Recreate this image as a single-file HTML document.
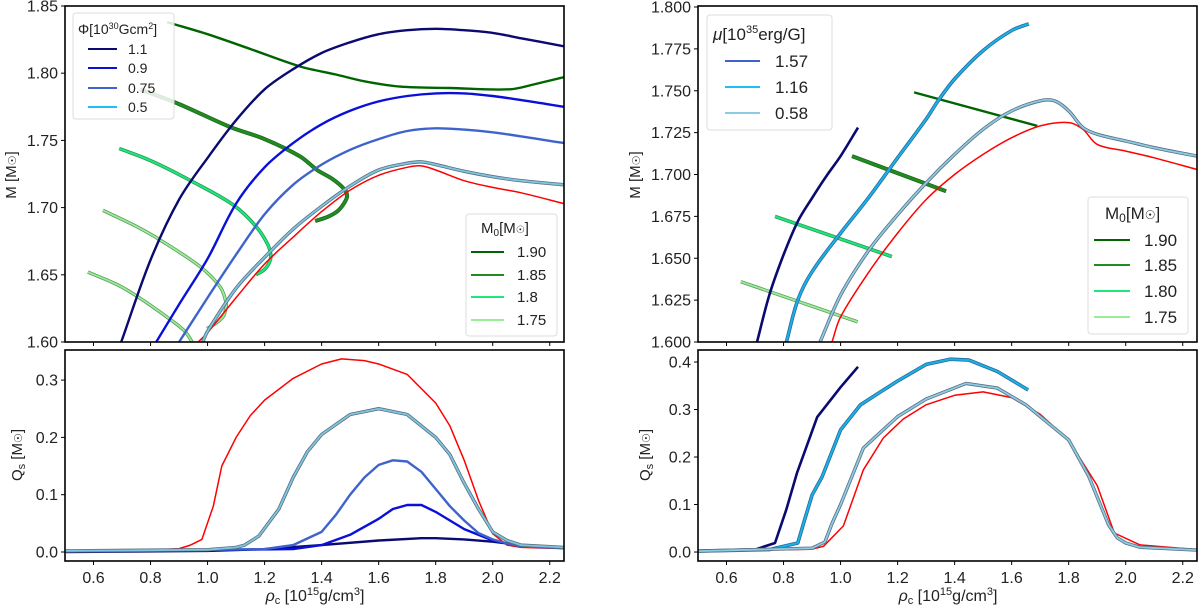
<!DOCTYPE html>
<html><head><meta charset="utf-8"><style>
html,body{margin:0;padding:0;background:#fff;}
svg{display:block;font-family:"Liberation Sans","DejaVu Sans",sans-serif;}
</style></head><body>
<svg id="fig" width="1200" height="609" viewBox="0 0 1200 609"></svg>
<script>
// ---------- LEFT TOP: M vs rho (Phi series) ----------
const L_navy_r=[0.697,0.8,0.9,1.0,1.1,1.2,1.3,1.4,1.5,1.6,1.7,1.8,1.9,2.0,2.1,2.25];
const L_navy_m=[1.60,1.661,1.706,1.737,1.765,1.788,1.803,1.815,1.823,1.829,1.832,1.833,1.832,1.830,1.826,1.820];
const L_blue_r=[0.82,0.9,1.0,1.1,1.2,1.3,1.4,1.5,1.6,1.7,1.8,1.9,2.0,2.1,2.25];
const L_blue_m=[1.60,1.628,1.662,1.703,1.73,1.748,1.762,1.772,1.779,1.783,1.785,1.785,1.783,1.78,1.775];
const L_royal_r=[0.9,1.0,1.1,1.2,1.3,1.4,1.5,1.6,1.7,1.8,1.9,2.0,2.1,2.25];
const L_royal_m=[1.60,1.633,1.665,1.695,1.717,1.732,1.743,1.751,1.757,1.759,1.758,1.756,1.753,1.748];
const L_light_r=[0.983,1.0,1.1,1.2,1.3,1.4,1.5,1.6,1.7,1.75,1.8,1.9,2.0,2.1,2.25];
const L_light_m=[1.60,1.608,1.64,1.663,1.684,1.701,1.716,1.728,1.733,1.734,1.732,1.727,1.723,1.720,1.717];
const L_red_r=[0.967,1.0,1.1,1.2,1.3,1.4,1.5,1.6,1.7,1.75,1.8,1.9,2.0,2.1,2.25];
const L_red_m=[1.60,1.607,1.633,1.658,1.678,1.697,1.713,1.724,1.730,1.731,1.728,1.720,1.715,1.711,1.703];
// M0 sequences
const L_g190_r=[0.858,1.0,1.15,1.325,1.45,1.55,1.675,1.85,2.06,2.15,2.25];
const L_g190_m=[1.838,1.829,1.818,1.805,1.799,1.794,1.790,1.789,1.788,1.792,1.797];
const L_g185_r=[0.763,0.9,1.079,1.2,1.325,1.384,1.44,1.482,1.489,1.475,1.454,1.42,1.377];
const L_g185_m=[1.788,1.777,1.760,1.751,1.738,1.728,1.721,1.713,1.708,1.702,1.697,1.693,1.690];
const L_g180_r=[0.69,0.8,0.95,1.09,1.17,1.21,1.222,1.216,1.2,1.17];
const L_g180_m=[1.744,1.735,1.719,1.702,1.686,1.673,1.664,1.659,1.654,1.650];
const L_g175_r=[0.633,0.75,0.833,0.974,1.044,1.065,1.063,1.055,1.03,0.998];
const L_g175_m=[1.698,1.686,1.676,1.656,1.641,1.629,1.624,1.619,1.614,1.610];
const L_g170_r=[0.58,0.68,0.753,0.868,0.92,0.946];
const L_g170_m=[1.652,1.643,1.634,1.617,1.608,1.600];
// ---------- LEFT BOTTOM: Qs ----------
const LQ_red_r=[0.5,0.8,0.9,0.94,0.98,1.02,1.05,1.1,1.15,1.2,1.3,1.4,1.47,1.55,1.6,1.7,1.8,1.85,1.9,1.95,2.0,2.05,2.1,2.25];
const LQ_red_q=[0.002,0.003,0.006,0.012,0.022,0.08,0.15,0.20,0.238,0.265,0.303,0.328,0.337,0.334,0.328,0.31,0.26,0.22,0.16,0.09,0.032,0.012,0.008,0.006];
const LQ_light_r=[0.5,1.0,1.1,1.13,1.18,1.25,1.3,1.35,1.4,1.5,1.6,1.7,1.8,1.85,1.9,1.95,2.0,2.05,2.1,2.25];
const LQ_light_q=[0.002,0.004,0.008,0.012,0.028,0.075,0.13,0.175,0.205,0.24,0.25,0.24,0.2,0.17,0.12,0.075,0.035,0.02,0.012,0.008];
const LQ_royal_r=[0.5,1.2,1.3,1.4,1.45,1.5,1.55,1.6,1.65,1.7,1.75,1.8,1.85,1.9,1.95,2.0,2.05,2.1,2.25];
const LQ_royal_q=[0.001,0.005,0.012,0.035,0.065,0.1,0.13,0.152,0.16,0.158,0.14,0.11,0.08,0.055,0.033,0.022,0.015,0.01,0.007];
const LQ_blue_r=[0.5,1.3,1.4,1.5,1.6,1.65,1.7,1.75,1.8,1.9,2.0,2.1,2.25];
const LQ_blue_q=[0.001,0.005,0.012,0.03,0.058,0.075,0.082,0.082,0.07,0.04,0.02,0.01,0.007];
const LQ_navy_r=[0.5,1.0,1.2,1.4,1.6,1.75,1.8,1.9,2.0,2.1,2.25];
const LQ_navy_q=[0.0,0.002,0.005,0.012,0.02,0.024,0.024,0.022,0.018,0.012,0.008];
// ---------- RIGHT TOP ----------
const R_navy_r=[0.707,0.75,0.8,0.85,0.9,0.95,1.0,1.061];
const R_navy_m=[1.60,1.628,1.652,1.672,1.686,1.699,1.711,1.728];
const R_sky_r=[0.81,0.85,0.9,1.0,1.093,1.2,1.3,1.338,1.4,1.5,1.6,1.66];
const R_sky_m=[1.60,1.625,1.642,1.665,1.685,1.71,1.733,1.743,1.757,1.774,1.786,1.790];
const R_light_r=[0.928,1.0,1.1,1.2,1.3,1.4,1.5,1.6,1.7,1.75,1.8,1.85,1.9,2.0,2.1,2.25];
const R_light_m=[1.60,1.628,1.655,1.676,1.695,1.712,1.727,1.738,1.744,1.744,1.738,1.728,1.724,1.72,1.716,1.711];
const R_red_r=[0.97,1.0,1.1,1.2,1.3,1.4,1.5,1.6,1.7,1.8,1.85,1.9,2.0,2.1,2.25];
const R_red_m=[1.60,1.615,1.642,1.665,1.685,1.70,1.712,1.722,1.729,1.731,1.727,1.718,1.714,1.71,1.703];
const R_g190_r=[1.258,1.69]; const R_g190_m=[1.749,1.729];
const R_g185_r=[1.04,1.37];  const R_g185_m=[1.711,1.690];
const R_g180_r=[0.77,1.18];  const R_g180_m=[1.675,1.651];
const R_g175_r=[0.65,1.06];  const R_g175_m=[1.636,1.612];
// ---------- RIGHT BOTTOM ----------
const RQ_navy_r=[0.5,0.7,0.77,0.81,0.847,0.918,1.0,1.061];
const RQ_navy_q=[0.002,0.005,0.019,0.09,0.166,0.284,0.347,0.39];
const RQ_sky_r=[0.5,0.75,0.85,0.87,0.9,0.935,1.0,1.07,1.14,1.2,1.3,1.384,1.45,1.55,1.6,1.658];
const RQ_sky_q=[0.002,0.005,0.019,0.06,0.12,0.158,0.257,0.31,0.337,0.36,0.395,0.406,0.404,0.38,0.362,0.341];
const RQ_light_r=[0.5,0.9,0.945,0.97,1.0,1.08,1.2,1.3,1.44,1.55,1.65,1.8,1.87,1.94,1.97,2.0,2.05,2.25];
const RQ_light_q=[0.002,0.008,0.021,0.06,0.1,0.219,0.285,0.322,0.355,0.345,0.31,0.236,0.16,0.057,0.03,0.019,0.01,0.004];
const RQ_red_r=[0.5,0.9,0.94,1.01,1.08,1.15,1.22,1.3,1.4,1.5,1.6,1.7,1.8,1.9,1.96,2.05,2.25];
const RQ_red_q=[0.002,0.006,0.012,0.055,0.173,0.24,0.28,0.31,0.33,0.337,0.325,0.29,0.235,0.14,0.04,0.015,0.005];
// ticks
const xTicks=[0.6,0.8,1.0,1.2,1.4,1.6,1.8,2.0,2.2];
const LTop_ticks=[1.60,1.65,1.70,1.75,1.80,1.85];
const LBot_ticks=[0.0,0.1,0.2,0.3];
const RTop_ticks=[1.600,1.625,1.650,1.675,1.700,1.725,1.750,1.775,1.800];
const RBot_ticks=[0.0,0.1,0.2,0.3,0.4];

const NS="http://www.w3.org/2000/svg";
const svg=document.getElementById('fig');
function mk(tag,attrs,parent){const e=document.createElementNS(NS,tag);for(const k in attrs)e.setAttribute(k,attrs[k]);(parent||svg).appendChild(e);return e;}
function axes(x0,x1,y0,y1,xmin,xmax,ymin,ymax){return {x:v=>x0+(v-xmin)/(xmax-xmin)*(x1-x0),y:v=>y1-(v-ymin)/(ymax-ymin)*(y1-y0),x0,x1,y0,y1};}
const LT=axes(65,564,6,342,0.5,2.25,1.60,1.85);
const LB=axes(65,564,350,561,0.5,2.25,-0.0157,0.3525);
const RT=axes(698,1197,6,342,0.5,2.25,1.60,1.8006);
const RB=axes(698,1197,350,561,0.5,2.25,-0.0189,0.4253);

const defs=mk('defs',{});
function mkClip(id,a){const c=document.createElementNS(NS,'clipPath');c.setAttribute('id',id);const r=document.createElementNS(NS,'rect');r.setAttribute('x',a.x0);r.setAttribute('y',a.y0);r.setAttribute('width',a.x1-a.x0);r.setAttribute('height',a.y1-a.y0);c.appendChild(r);defs.appendChild(c);}
mkClip('cLT',LT);mkClip('cLB',LB);mkClip('cRT',RT);mkClip('cRB',RB);

function tangent(P,i){
  const a=P[Math.max(0,i-1)],b=P[Math.min(P.length-1,i+1)];
  const dx=b[0]-a[0],dy=b[1]-a[1],l=Math.hypot(dx,dy)||1;return [dx/l,dy/l];
}
function path(P,smooth){
  let d='M'+P[0][0].toFixed(1)+','+P[0][1].toFixed(1);
  for(let i=0;i<P.length-1;i++){
    const p1=P[i],p2=P[i+1];
    if(!smooth||P.length<3){d+='L'+p2[0].toFixed(1)+','+p2[1].toFixed(1);continue;}
    const L=Math.hypot(p2[0]-p1[0],p2[1]-p1[1])/3;
    const t1=tangent(P,i),t2=tangent(P,i+1);
    d+='C'+(p1[0]+t1[0]*L).toFixed(1)+','+(p1[1]+t1[1]*L).toFixed(1)+' '+(p2[0]-t2[0]*L).toFixed(1)+','+(p2[1]-t2[1]*L).toFixed(1)+' '+p2[0].toFixed(1)+','+p2[1].toFixed(1);
  }
  return d;
}
function line(a,cid,xs,ys,color,w,outline,name,smooth){
  const P=xs.map((v,i)=>[a.x(v),a.y(ys[i])]);
  const d=path(P,smooth);
  const g=mk('g',{'clip-path':'url(#'+cid+')'});
  
  
  if(outline)mk('path',{d:d,fill:'none',stroke:outline,'stroke-width':w+1.6,'stroke-linejoin':'round'},g);
  mk('path',{d:d,fill:'none',stroke:color,'stroke-width':w,'stroke-linejoin':'round'},g);
}
function frame(a,yt,fmt,name,showX){
  const g=mk('g',{});
  
  
  mk('rect',{x:a.x0,y:a.y0,width:a.x1-a.x0,height:a.y1-a.y0,fill:'none',stroke:'#000','stroke-width':1.6},g);
  yt.forEach(v=>{const y=a.y(v);mk('line',{x1:a.x0-4,x2:a.x0,y1:y,y2:y,stroke:'#000','stroke-width':1},g);
    const t=mk('text',{x:a.x0-7,y:y+5.5,'text-anchor':'end','font-size':16,fill:'#222'},g);t.textContent=fmt(v);});
  xTicks.forEach(v=>{const x=a.x(v);mk('line',{x1:x,x2:x,y1:a.y1,y2:a.y1+4,stroke:'#000','stroke-width':1},g);
    if(showX){const t=mk('text',{x:x,y:a.y1+22,'text-anchor':'middle','font-size':16,fill:'#222'},g);t.textContent=v.toFixed(1);}});
}
// ---- left top
line(LT,'cLT',L_g190_r,L_g190_m,'#006400',2.4,null,'m0-190-left',true);
line(LT,'cLT',L_g185_r,L_g185_m,'#228b22',2.4,'#1a6b1a','m0-185-left',true);
line(LT,'cLT',L_g180_r,L_g180_m,'#1de87a',2,'#2a9a5a','m0-180-left',true);
line(LT,'cLT',L_g175_r,L_g175_m,'#98ee98',1.8,'#5e9a5e','m0-175-left',true);
line(LT,'cLT',L_g170_r,L_g170_m,'#98ee98',1.8,'#5e9a5e','m0-170-left',true);
line(LT,'cLT',L_navy_r,L_navy_m,'#0a0a70',2.4,null,'phi-11-curve',true);
line(LT,'cLT',L_blue_r,L_blue_m,'#0a10d8',2.4,null,'phi-09-curve',true);
line(LT,'cLT',L_royal_r,L_royal_m,'#3f63cc',2.4,null,'phi-075-curve',true);
line(LT,'cLT',L_red_r,L_red_m,'#ff0000',1.5,null,'nonmagnetic-curve-left',true);
line(LT,'cLT',L_light_r,L_light_m,'#7ec6e0',1.8,'#5a6f80','phi-05-curve',true);
frame(LT,LTop_ticks,v=>v.toFixed(2),'left-top-axes',false);
// ---- left bottom
line(LB,'cLB',LQ_red_r,LQ_red_q,'#ff0000',1.5,null,'qs-red-left',false);
line(LB,'cLB',LQ_navy_r,LQ_navy_q,'#0a0a70',2.4,null,'qs-phi-11',false);
line(LB,'cLB',LQ_blue_r,LQ_blue_q,'#0a10d8',2.4,null,'qs-phi-09',false);
line(LB,'cLB',LQ_royal_r,LQ_royal_q,'#3f63cc',2.4,null,'qs-phi-075',false);
line(LB,'cLB',LQ_light_r,LQ_light_q,'#7ec6e0',1.8,'#5a6f80','qs-phi-05',false);
frame(LB,LBot_ticks,v=>v.toFixed(1),'left-bottom-axes',true);
// ---- right top
line(RT,'cRT',R_g190_r,R_g190_m,'#006400',2.4,null,'m0-190-right',false);
line(RT,'cRT',R_g185_r,R_g185_m,'#228b22',2.4,'#1a6b1a','m0-185-right',false);
line(RT,'cRT',R_g180_r,R_g180_m,'#1de87a',2,'#2a9a5a','m0-180-right',false);
line(RT,'cRT',R_g175_r,R_g175_m,'#98ee98',1.8,'#5e9a5e','m0-175-right',false);
line(RT,'cRT',R_navy_r,R_navy_m,'#0a0a70',2.6,null,'mu-navy-curve',true);
line(RT,'cRT',R_sky_r,R_sky_m,'#1ab0e8',2,'#2a6a9a','mu-116-curve',true);
line(RT,'cRT',R_red_r,R_red_m,'#ff0000',1.5,null,'nonmagnetic-curve-right',true);
line(RT,'cRT',R_light_r,R_light_m,'#8ccbe4',1.8,'#5a6f80','mu-058-curve',true);
frame(RT,RTop_ticks,v=>v.toFixed(3),'right-top-axes',false);
// ---- right bottom
line(RB,'cRB',RQ_red_r,RQ_red_q,'#ff0000',1.5,null,'qs-red-right',false);
line(RB,'cRB',RQ_navy_r,RQ_navy_q,'#0a0a70',2.6,null,'qs-mu-navy',false);
line(RB,'cRB',RQ_sky_r,RQ_sky_q,'#1ab0e8',2,'#2a6a9a','qs-mu-116',false);
line(RB,'cRB',RQ_light_r,RQ_light_q,'#8ccbe4',1.8,'#5a6f80','qs-mu-058',false);
frame(RB,RBot_ticks,v=>v.toFixed(1),'right-bottom-axes',true);
</script>
<svg width="1200" height="609" style="position:absolute;left:0;top:0">
<g font-family="Liberation Sans, DejaVu Sans, sans-serif" fill="#222">
 <text transform="translate(16,175) rotate(-90)" text-anchor="middle" font-size="15">M [M<tspan font-size="11">☉</tspan>]</text>
 <text transform="translate(22,455) rotate(-90)" text-anchor="middle" font-size="15">Q<tspan font-size="11" dy="3">s</tspan><tspan dy="-3"> [M</tspan><tspan font-size="11">☉</tspan>]</text>
 <text x="315" y="601" text-anchor="middle" font-size="16"><tspan font-style="italic">ρ</tspan><tspan font-size="11" dy="3">c</tspan><tspan dy="-3"> [10</tspan><tspan font-size="11" dy="-6">15</tspan><tspan dy="6">g/cm</tspan><tspan font-size="11" dy="-6">3</tspan><tspan dy="6">]</tspan></text>
 <text transform="translate(640,175) rotate(-90)" text-anchor="middle" font-size="15">M [M<tspan font-size="11">☉</tspan>]</text>
 <text transform="translate(650,455) rotate(-90)" text-anchor="middle" font-size="15">Q<tspan font-size="11" dy="3">s</tspan><tspan dy="-3"> [M</tspan><tspan font-size="11">☉</tspan>]</text>
 <text x="948" y="601" text-anchor="middle" font-size="16"><tspan font-style="italic">ρ</tspan><tspan font-size="11" dy="3">c</tspan><tspan dy="-3"> [10</tspan><tspan font-size="11" dy="-6">15</tspan><tspan dy="6">g/cm</tspan><tspan font-size="11" dy="-6">3</tspan><tspan dy="6">]</tspan></text>
</g>
<g font-family="Liberation Sans, DejaVu Sans, sans-serif" fill="#222" font-size="14">
 <rect x="73" y="13" width="101" height="106" rx="3" fill="#fff" fill-opacity="0.85" stroke="#ddd"/>
 <text x="78" y="34">Φ[10<tspan font-size="9" dy="-5">30</tspan><tspan dy="5">Gcm</tspan><tspan font-size="9" dy="-5">2</tspan><tspan dy="5">]</tspan></text>
 <line x1="88" x2="117" y1="49" y2="49" stroke="#0a0a70" stroke-width="2"/><text x="128" y="54">1.1</text>
 <line x1="88" x2="117" y1="68" y2="68" stroke="#0a10d8" stroke-width="2"/><text x="128" y="73">0.9</text>
 <line x1="88" x2="117" y1="88" y2="88" stroke="#3f63cc" stroke-width="2"/><text x="128" y="93">0.75</text>
 <line x1="88" x2="117" y1="107" y2="107" stroke="#1ec0f0" stroke-width="2"/><text x="128" y="112">0.5</text>
</g>
<g font-family="Liberation Sans, DejaVu Sans, sans-serif" fill="#222" font-size="15">
 <rect x="466" y="214" width="91" height="122" rx="3" fill="#fff" stroke="#ddd"/>
 <text x="481" y="233">M<tspan font-size="10" dy="3">0</tspan><tspan dy="-3">[M</tspan><tspan font-size="10">☉</tspan>]</text>
 <line x1="471" x2="504" y1="252" y2="252" stroke="#006400" stroke-width="2"/><text x="517" y="257">1.90</text>
 <line x1="471" x2="504" y1="275" y2="275" stroke="#228b22" stroke-width="2"/><text x="517" y="280">1.85</text>
 <line x1="471" x2="504" y1="297" y2="297" stroke="#1de87a" stroke-width="2"/><text x="517" y="302">1.8</text>
 <line x1="471" x2="504" y1="320" y2="320" stroke="#98ee98" stroke-width="2"/><text x="517" y="325">1.75</text>
</g>
<g font-family="Liberation Sans, DejaVu Sans, sans-serif" fill="#222" font-size="17">
 <rect x="707" y="15" width="125" height="115" rx="3" fill="#fff" stroke="#ddd"/>
 <text x="713" y="40"><tspan font-style="italic">μ</tspan>[10<tspan font-size="11" dy="-7">35</tspan><tspan dy="7">erg/G]</tspan></text>
 <line x1="725" x2="760" y1="61" y2="61" stroke="#3f63cc" stroke-width="2"/><text x="775" y="67">1.57</text>
 <line x1="725" x2="760" y1="87" y2="87" stroke="#1ec0f0" stroke-width="2"/><text x="775" y="93">1.16</text>
 <line x1="725" x2="760" y1="113" y2="113" stroke="#8ccbe4" stroke-width="2"/><text x="775" y="119">0.58</text>
</g>
<g font-family="Liberation Sans, DejaVu Sans, sans-serif" fill="#222" font-size="17">
 <rect x="1088" y="197" width="100" height="137" rx="3" fill="#fff" stroke="#ddd"/>
 <text x="1105" y="219">M<tspan font-size="12" dy="3">0</tspan><tspan dy="-3">[M</tspan><tspan font-size="12">☉</tspan>]</text>
 <line x1="1094" x2="1130" y1="240" y2="240" stroke="#006400" stroke-width="2"/><text x="1144" y="246">1.90</text>
 <line x1="1094" x2="1130" y1="265" y2="265" stroke="#228b22" stroke-width="2"/><text x="1144" y="271">1.85</text>
 <line x1="1094" x2="1130" y1="291" y2="291" stroke="#1de87a" stroke-width="2"/><text x="1144" y="297">1.80</text>
 <line x1="1094" x2="1130" y1="317" y2="317" stroke="#98ee98" stroke-width="2"/><text x="1144" y="323">1.75</text>
</g>
</svg>
</body></html>
